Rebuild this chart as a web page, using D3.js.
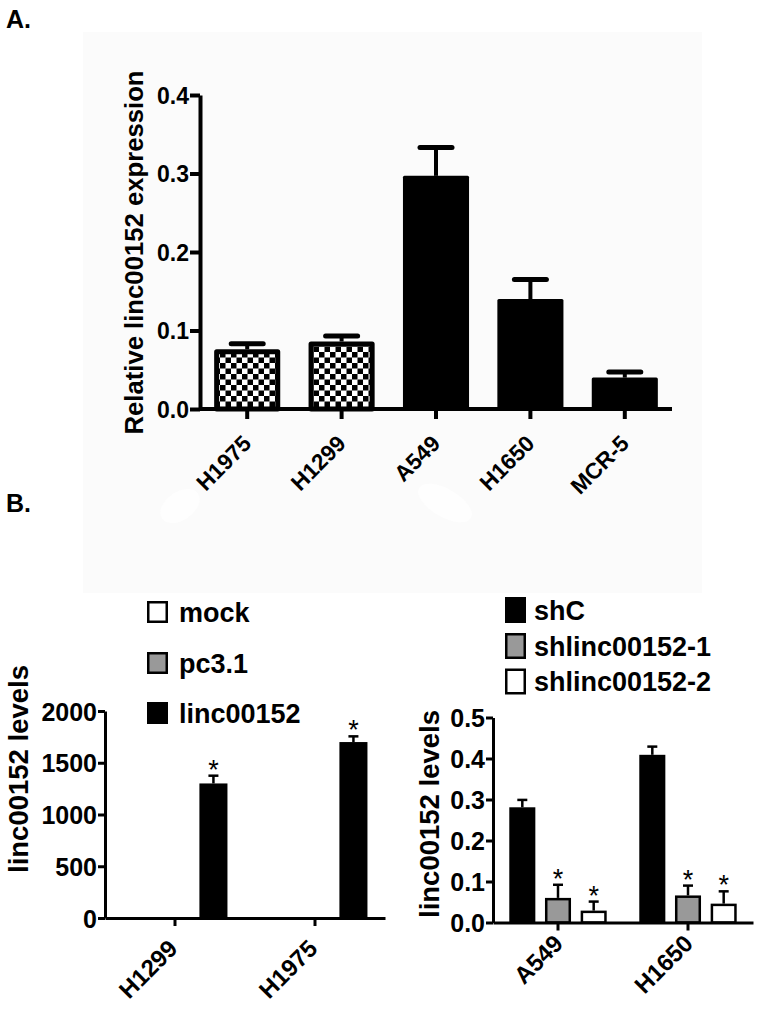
<!DOCTYPE html>
<html>
<head>
<meta charset="utf-8">
<script src="https://cdn.jsdelivr.net/npm/d3@7"></script>
<style>
  html, body { margin: 0; padding: 0; background: #ffffff; }
  svg { display: block; }
  text { font-family: "Liberation Sans", Arial, Helvetica, sans-serif; fill: #000; }
</style>
</head>
<body>
<svg id="chart" width="760" height="1013"></svg>
<script>
// ---------- Data ----------
// Panel A
const cellsA = ["H1975", "H1299", "A549", "H1650", "MCR-5"];
const exprA = [0.076, 0.086, 0.297, 0.140, 0.040];
const errA = [0.007, 0.007, 0.036, 0.025, 0.007];
const ticksA = [0.0, 0.1, 0.2, 0.3, 0.4];
const titleA = "Relative linc00152 expression";

// Panel B left
const cellsBL = ["H1299", "H1975"];
const seriesBL = ["mock", "pc3.1", "linc00152"];
const mockBL = [0, 0];
const pc31BL = [0, 0];
const lincBL = [1300, 1700];
const lincErrBL = [75, 55];
const ticksBL = [0, 500, 1000, 1500, 2000];

// Panel B right
const cellsBR = ["A549", "H1650"];
const seriesBR = ["shC", "shlinc00152-1", "shlinc00152-2"];
const shCBR = [0.281, 0.409];
const shCErrBR = [0.018, 0.020];
const sh1BR = [0.060, 0.066];
const sh1ErrBR = [0.032, 0.024];
const sh2BR = [0.029, 0.046];
const sh2ErrBR = [0.022, 0.030];
const ticksBR = [0.0, 0.1, 0.2, 0.3, 0.4, 0.5];
const titleB = "linc00152 levels";

// ---------- Drawing ----------
const svg = d3.select("#chart");
const defs = svg.append("defs");

// checkered pattern
const pat = defs.append("pattern")
  .attr("id", "checker").attr("patternUnits", "userSpaceOnUse")
  .attr("width", 11).attr("height", 11).attr("x", 0).attr("y", 0);
pat.append("rect").attr("width", 11).attr("height", 11).attr("fill", "#fff");
pat.append("rect").attr("width", 5.5).attr("height", 5.5).attr("fill", "#000");
pat.append("rect").attr("x", 5.5).attr("y", 5.5).attr("width", 5.5).attr("height", 5.5).attr("fill", "#000");

// faint background panel
svg.append("rect").attr("x", 83).attr("y", 32).attr("width", 619).attr("height", 561).attr("fill", "#fbfbfb");
svg.append("ellipse").attr("cx", 180).attr("cy", 506).attr("rx", 22).attr("ry", 14)
  .attr("transform", "rotate(-35,180,506)").attr("fill", "#fefefe");
svg.append("ellipse").attr("cx", 445).attr("cy", 503).attr("rx", 30).attr("ry", 14)
  .attr("transform", "rotate(30,445,503)").attr("fill", "#fefefe");

const FONT = "'Liberation Sans', Arial, Helvetica, sans-serif";

// panel letters
svg.append("text").attr("x", 6).attr("y", 28).attr("font-size", 25).attr("font-weight", "bold").text("A.");
svg.append("text").attr("x", 6).attr("y", 512).attr("font-size", 25).attr("font-weight", "bold").text("B.");

function styleAxis(g, w) {
  g.select(".domain").attr("stroke", "#000").attr("stroke-width", w);
  g.selectAll(".tick line").attr("stroke", "#000").attr("stroke-width", w);
}

// ===== Panel A =====
(function () {
  const x = d3.scaleBand().domain(cellsA).range([200, 672]).paddingInner(0.3).paddingOuter(0.15);
  const y = d3.scaleLinear().domain([0, 0.4]).range([409, 95]);
  const g = svg.append("g");

  const rows = cellsA.map((c, i) => ({ c, v: exprA[i], e: errA[i], checker: i < 2 }));

  // error bars
  rows.forEach(d => {
    const cx = x(d.c) + x.bandwidth() / 2;
    g.append("line").attr("x1", cx).attr("x2", cx).attr("y1", y(d.v)).attr("y2", y(d.v + d.e))
      .attr("stroke", "#000").attr("stroke-width", 4);
    g.append("line").attr("x1", cx - 16).attr("x2", cx + 16).attr("y1", y(d.v + d.e)).attr("y2", y(d.v + d.e))
      .attr("stroke", "#000").attr("stroke-width", 5).attr("stroke-linecap", "round");
  });

  // bars
  rows.forEach(d => {
    const sw = 5;
    const x0 = x(d.c), bw = x.bandwidth();
    if (d.checker) {
      g.append("rect").attr("x", x0 + sw / 2).attr("y", y(d.v) + sw / 2)
        .attr("width", bw - sw).attr("height", y(0) - y(d.v) - sw / 2)
        .attr("fill", "url(#checker)").attr("stroke", "#000").attr("stroke-width", sw)
        .attr("stroke-linejoin", "round");
    } else {
      g.append("rect").attr("x", x0).attr("y", y(d.v)).attr("width", bw).attr("height", y(0) - y(d.v))
        .attr("fill", "#000").attr("rx", 1.5);
    }
  });

  const ya = g.append("g").attr("transform", "translate(200,0)")
    .call(d3.axisLeft(y).tickValues(ticksA).tickFormat(d3.format(".1f")).tickSize(10).tickSizeOuter(0).tickPadding(1));
  styleAxis(ya, 4);
  ya.selectAll("text").attr("font-size", 23).attr("font-weight", "bold").attr("font-family", FONT).attr("dy", "0.36em");

  const xa = g.append("g").attr("transform", "translate(0,409)")
    .call(d3.axisBottom(x).tickSize(10).tickSizeOuter(0));
  styleAxis(xa, 4);
  xa.select(".domain").attr("d", "M200,0H672");
  xa.selectAll("text").remove();
  cellsA.forEach(c => {
    const tx = x(c) + x.bandwidth() / 2 + 5.5, ty = 409 + 36;
    g.append("text").attr("x", tx).attr("y", ty).attr("text-anchor", "end")
      .attr("transform", `rotate(-45,${tx},${ty})`)
      .attr("font-size", 22.5).attr("font-weight", "bold").text(c);
  });

  g.append("text").attr("transform", "translate(143,252.5) rotate(-90)").attr("text-anchor", "middle")
    .attr("font-size", 25.7).attr("font-weight", "bold").text(titleA);
})();

// ===== generic grouped panel =====
function groupedPanel(opts) {
  const { cells, series, values, errs, stars, fills, xr, yr, dom, ticks, fmt, titleX, titleY, labDx, labDy } = opts;
  const x0 = d3.scaleBand().domain(cells).range(xr);
  const step = x0.bandwidth();
  const pitch = step * 0.2745;
  const x1 = d3.scaleBand().domain(series).range([-1.5 * pitch, 1.5 * pitch]).paddingInner(0.27).paddingOuter(0.135);
  const y = d3.scaleLinear().domain(dom).range(yr);
  const g = svg.append("g");

  cells.forEach((c, ci) => {
    const gc = x0(c) + step / 2;
    series.forEach((s, si) => {
      const v = values[si][ci];
      const e = errs[si] ? errs[si][ci] : 0;
      const bx = gc + x1(s);
      const bw = x1.bandwidth();
      if (e > 0) {
        const cx = bx + bw / 2;
        g.append("line").attr("x1", cx).attr("x2", cx).attr("y1", y(v)).attr("y2", y(v + e))
          .attr("stroke", "#000").attr("stroke-width", 2.5);
        g.append("line").attr("x1", cx - 5).attr("x2", cx + 5).attr("y1", y(v + e)).attr("y2", y(v + e))
          .attr("stroke", "#000").attr("stroke-width", 2.5);
        if (stars[si]) {
          g.append("text").attr("x", cx).attr("y", y(v + e) + 3).attr("text-anchor", "middle")
            .attr("font-size", 27).text("*");
        }
      }
      if (v > 0) {
        const sw = fills[si] === "#000" ? 0 : 2.5;
        g.append("rect").attr("x", bx + sw / 2).attr("y", y(v) + sw / 2)
          .attr("width", bw - sw).attr("height", Math.max(0, y(0) - y(v) - sw / 2))
          .attr("fill", fills[si]).attr("stroke", sw ? "#000" : "none").attr("stroke-width", sw);
      }
    });
  });

  const ya = g.append("g").attr("transform", `translate(${xr[0]},0)`)
    .call(d3.axisLeft(y).tickValues(ticks).tickFormat(fmt).tickSize(7).tickSizeOuter(0).tickPadding(1));
  styleAxis(ya, 3);
  ya.selectAll("text").attr("font-size", 25).attr("font-weight", "bold").attr("font-family", FONT).attr("dy", "0.36em");

  const xa = g.append("g").attr("transform", `translate(0,${yr[0]})`)
    .call(d3.axisBottom(x0).tickSize(8).tickSizeOuter(0));
  styleAxis(xa, 3);
  xa.selectAll("text").remove();
  cells.forEach(c => {
    const tx = x0(c) + step / 2 + labDx, ty = yr[0] + labDy;
    g.append("text").attr("x", tx).attr("y", ty).attr("text-anchor", "end")
      .attr("transform", `rotate(-45,${tx},${ty})`)
      .attr("font-size", 24).attr("font-weight", "bold").text(c);
  });

  g.append("text").attr("transform", `translate(${titleX},${titleY}) rotate(-90)`)
    .attr("text-anchor", "middle").attr("font-size", 27.5).attr("font-weight", "bold").text(titleB);
}

groupedPanel({
  cells: cellsBL, series: seriesBL,
  values: [mockBL, pc31BL, lincBL], errs: [null, null, lincErrBL], stars: [false, false, true],
  fills: ["#fff", "#999", "#000"],
  xr: [105, 385], yr: [918, 711], dom: [0, 2000], ticks: ticksBL, fmt: d3.format("d"), titleX: 28, titleY: 769,
  labDx: 4, labDy: 32
});

groupedPanel({
  cells: cellsBR, series: seriesBR,
  values: [shCBR, sh1BR, sh2BR], errs: [shCErrBR, sh1ErrBR, sh2ErrBR], stars: [false, true, true],
  fills: ["#000", "#999", "#fff"],
  xr: [493, 753], yr: [922.5, 717.5], dom: [0, 0.5], ticks: ticksBR, fmt: d3.format(".1f"), titleX: 439, titleY: 814,
  labDx: 6.5, labDy: 22.5
});

// ===== Legends =====
function legend(items, fills, x, ys, bw, bh, tx) {
  items.forEach((s, i) => {
    svg.append("rect").attr("x", x + 1.25).attr("y", ys[i] - bh / 2 + 1.25).attr("width", bw - 2.5).attr("height", bh - 2.5)
      .attr("fill", fills[i]).attr("stroke", "#000").attr("stroke-width", 2.5);
    svg.append("text").attr("x", tx).attr("y", ys[i] + 9.5).attr("font-size", 27).attr("font-weight", "bold").text(s);
  });
}
legend(seriesBL, ["#fff", "#999", "#000"], 147, [612, 663, 713], 21, 22, 179);
legend(seriesBR, ["#000", "#999", "#fff"], 505, [610, 646, 681.5], 21, 26, 534);
</script>
</body>
</html>
